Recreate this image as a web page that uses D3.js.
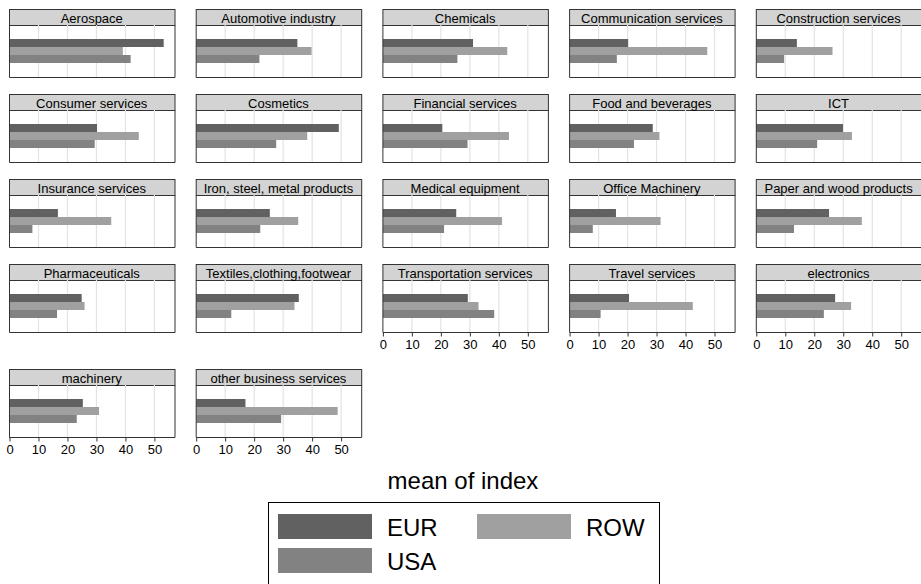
<!DOCTYPE html>
<html>
<head>
<meta charset="utf-8">
<script src="https://cdn.jsdelivr.net/npm/d3@7"></script>
<style>
  body { margin: 0; background: #fff; }
  svg { display: block; font-family: "Liberation Sans", Arial, sans-serif; }
</style>
</head>
<body>
<script>
// sectors, in panel order
const categories = [
  "Aerospace", "Automotive industry", "Chemicals", "Communication services", "Construction services",
  "Consumer services", "Cosmetics", "Financial services", "Food and beverages", "ICT",
  "Insurance services", "Iron, steel, metal products", "Medical equipment", "Office Machinery", "Paper and wood products",
  "Pharmaceuticals", "Textiles,clothing,footwear", "Transportation services", "Travel services", "electronics",
  "machinery", "other business services"
];

// mean of index by region
const eur = [53.2, 34.9, 31.1, 20.2, 14.0, 30.2, 49.2, 20.5, 28.7, 29.9, 16.7, 25.4, 25.3, 16.0, 25.1, 24.9, 35.4, 29.3, 20.5, 27.2, 25.3, 17.0];
const row = [39.1, 39.8, 42.9, 47.5, 26.3, 44.6, 38.3, 43.5, 31.0, 33.0, 35.1, 35.2, 41.1, 31.4, 36.4, 25.9, 33.9, 33.0, 42.5, 32.7, 30.9, 48.8];
const usa = [41.8, 21.8, 25.7, 16.3, 9.6, 29.4, 27.6, 29.2, 22.2, 21.0, 7.9, 22.1, 21.1, 8.0, 13.0, 16.4, 12.1, 38.4, 10.7, 23.3, 23.2, 29.3];

const seriesNames = ["EUR", "ROW", "USA"];
const xTicks = [0, 10, 20, 30, 40, 50];

const colour = d3.scaleOrdinal()
  .domain(seriesNames)
  .range(["#616161", "#a0a0a0", "#828282"]);

const width = 921, height = 584;
const nCols = 5;
const panelW = 165.5, colStep = 186.7, left0 = 9;
const headH = 16, plotH = 52;
const rowTop = [9, 94, 179, 264, 369];

const x = d3.scaleLinear().domain([0, 57.1]).range([0, panelW]);
const y = d3.scaleBand().domain(seriesNames).range([14, 38]);

const data = categories.map((c, i) => ({
  name: c,
  values: [eur[i], row[i], usa[i]].map((v, j) => ({ key: seriesNames[j], value: v }))
}));

const svg = d3.select("body").append("svg")
  .attr("width", width)
  .attr("height", height)
  .attr("viewBox", [0, 0, width, height]);

const panel = svg.selectAll("g.panel")
  .data(data)
  .join("g")
    .attr("class", "panel")
    .attr("transform", (d, i) => `translate(${left0 + (i % nCols) * colStep}, ${rowTop[Math.floor(i / nCols)]})`);

// header strip
panel.append("rect")
    .attr("x", 0.5).attr("y", 0.5)
    .attr("width", panelW).attr("height", headH)
    .attr("fill", "#d2d3d2")
    .attr("stroke", "#333")
    .attr("stroke-width", 1);

panel.append("text")
    .attr("x", panelW / 2)
    .attr("y", headH / 2 + 1)
    .attr("text-anchor", "middle")
    .attr("dominant-baseline", "central")
    .style("font-size", "13px")
    .text(d => d.name);

const plot = panel.append("g")
    .attr("transform", `translate(0, ${headH})`);

// grid lines
plot.selectAll("line.grid")
  .data(xTicks.slice(1))
  .join("line")
    .attr("class", "grid")
    .attr("x1", d => x(d) + 0.5).attr("x2", d => x(d) + 0.5)
    .attr("y1", 0).attr("y2", plotH)
    .attr("stroke", "#e3e3e3")
    .attr("stroke-width", 1.2);

plot.selectAll("rect.bar")
  .data(d => d.values)
  .join("rect")
    .attr("class", "bar")
    .attr("x", x(0) + 0.5)
    .attr("y", d => y(d.key))
    .attr("width", d => x(d.value) - x(0))
    .attr("height", y.bandwidth())
    .attr("fill", d => colour(d.key));

// frame
plot.append("path")
    .attr("d", `M0.5,0.5V${plotH + 0.5}H${panelW + 0.5}V0.5`)
    .attr("fill", "none")
    .attr("stroke", "#333")
    .attr("stroke-width", 1);

// x axis on the lowest panel of each column
plot.filter((d, i) => i + nCols >= categories.length)
  .append("g")
    .attr("transform", `translate(0.5, ${plotH + 0.5})`)
    .call(d3.axisBottom(x).tickValues(xTicks).tickSize(4).tickPadding(3))
    .call(g => g.select(".domain").remove())
    .call(g => g.selectAll(".tick line").attr("stroke", "#333"))
    .call(g => g.selectAll(".tick text")
        .attr("fill", "#000")
        .style("font-size", "13px")
        .style("font-family", "\"Liberation Sans\", Arial, sans-serif"));

// legend
svg.append("text")
    .attr("x", 463)
    .attr("y", 489)
    .attr("text-anchor", "middle")
    .style("font-size", "24px")
    .text("mean of index");

svg.append("rect")
    .attr("x", 268.5).attr("y", 502.5)
    .attr("width", 391).attr("height", 86)
    .attr("fill", "none")
    .attr("stroke", "#000")
    .attr("stroke-width", 1);

const legendPos = [[278, 514], [477, 514], [278, 548]];

const item = svg.selectAll("g.legend")
  .data(seriesNames)
  .join("g")
    .attr("class", "legend")
    .attr("transform", (d, i) => `translate(${legendPos[i][0]}, ${legendPos[i][1]})`);

item.append("rect")
    .attr("width", 94)
    .attr("height", 25)
    .attr("fill", colour);

item.append("text")
    .attr("x", 109)
    .attr("y", 13)
    .attr("dominant-baseline", "central")
    .style("font-size", "24px")
    .text(d => d);
</script>
</body>
</html>
